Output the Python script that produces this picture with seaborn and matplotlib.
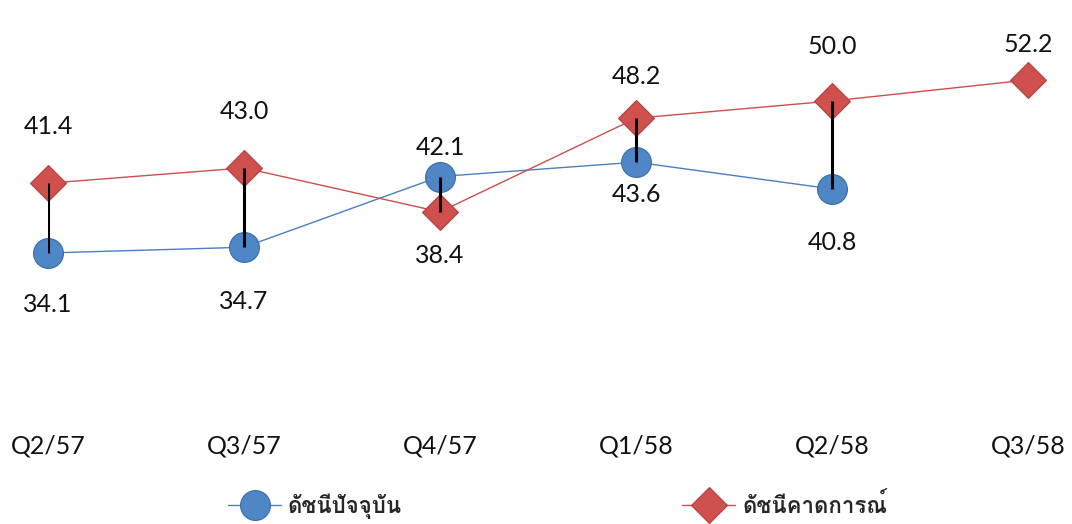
import pandas as pd
import seaborn as sns
import matplotlib.pyplot as plt
from matplotlib import font_manager
from matplotlib.ft2font import FT2Font

# Data
quarters = ['Q2/57', 'Q3/57', 'Q4/57', 'Q1/58', 'Q2/58', 'Q3/58']
current_name = 'ดัชนีปัจจุบัน'
forecast_name = 'ดัชนีคาดการณ์'
current_idx = [34.1, 34.7, 42.1, 43.6, 40.8]
forecast_idx = [41.4, 43.0, 38.4, 48.2, 50.0, 52.2]

# label offsets in pixels (positive = above the point)
current_off = [-52, -54, 29, -32, -54]
forecast_off = [57, 56, -44, 42, 54, 35]

# find an installed font with Thai glyphs
thai_font = None
for f in font_manager.fontManager.ttflist:
    try:
        if 0x0E14 in FT2Font(f.fname).get_charmap():
            thai_font = f.name
            break
    except Exception:
        pass

sns.set_theme(style='white')
families = ['Lato'] + ([thai_font] if thai_font else []) + ['DejaVu Sans']
plt.rcParams['font.family'] = families

df = pd.concat([
    pd.DataFrame({'x': range(len(current_idx)), 'value': current_idx, 'series': current_name}),
    pd.DataFrame({'x': range(len(forecast_idx)), 'value': forecast_idx, 'series': forecast_name}),
])

fig = plt.figure(figsize=(10.72, 5.24), dpi=100)
ax = fig.add_axes([48 / 1072, 0.187, 980 / 1072, 0.8027])

blue = '#4a7fc0'
red = '#cc4f4c'
sns.lineplot(data=df, x='x', y='value', hue='series', style='series',
             palette={current_name: blue, forecast_name: red},
             markers={current_name: 'o', forecast_name: 'D'}, dashes=False,
             markersize=22, linewidth=1, sort=False, legend=False, ax=ax, clip_on=False)

# adjust marker looks
for line in ax.lines:
    if line.get_marker() == 'o':
        line.set_markerfacecolor('#4f86c6')
        line.set_markeredgecolor('#3a6ca8')
        line.set_markersize(21.5)
    else:
        line.set_markerfacecolor('#d0504d')
        line.set_markeredgecolor('#b0413e')
        line.set_markersize(18.5)
    line.set_markeredgewidth(0.8)

# high-low lines
n = len(current_idx)
ax.vlines(range(n), current_idx, forecast_idx[:n], colors='black', linewidth=2.2, zorder=5)

# data labels
for i, v in enumerate(current_idx):
    ax.annotate(f'{v:.1f}', (i, v), xytext=(0, current_off[i] * 0.72), textcoords='offset points',
                ha='center', va='center', fontsize=18, color='#111111', annotation_clip=False)
for i, v in enumerate(forecast_idx):
    ax.annotate(f'{v:.1f}', (i, v), xytext=(0, forecast_off[i] * 0.72), textcoords='offset points',
                ha='center', va='center', fontsize=18, color='#111111', annotation_clip=False)

ax.set_xlim(0, len(quarters) - 1)
ax.set_ylim(16, 60)
ax.set_xticks(range(len(quarters)))
ax.set_xticklabels(quarters, fontsize=18, color='#111111')
ax.set_yticks([])
ax.tick_params(axis='x', length=0, pad=6)
ax.set_xlabel('')
ax.set_ylabel('')
sns.despine(ax=ax, left=True, bottom=True)

# legend
handles = [
    plt.Line2D([], [], color=blue, lw=1, marker='o', markersize=21.5,
               markerfacecolor='#4f86c6', markeredgecolor='#3a6ca8', markeredgewidth=0.8),
    plt.Line2D([], [], color=red, lw=1, marker='D', markersize=18.5,
               markerfacecolor='#d0504d', markeredgecolor='#b0413e', markeredgewidth=0.8),
]
fig.legend(handles, [current_name, forecast_name], loc='center', bbox_to_anchor=(0.52, 0.035),
           ncol=2, frameon=False, handlelength=2.4, columnspacing=12.6,
           prop={'weight': 'bold', 'size': 16}, handletextpad=0.3)

fig.savefig('out.png', dpi=100)
